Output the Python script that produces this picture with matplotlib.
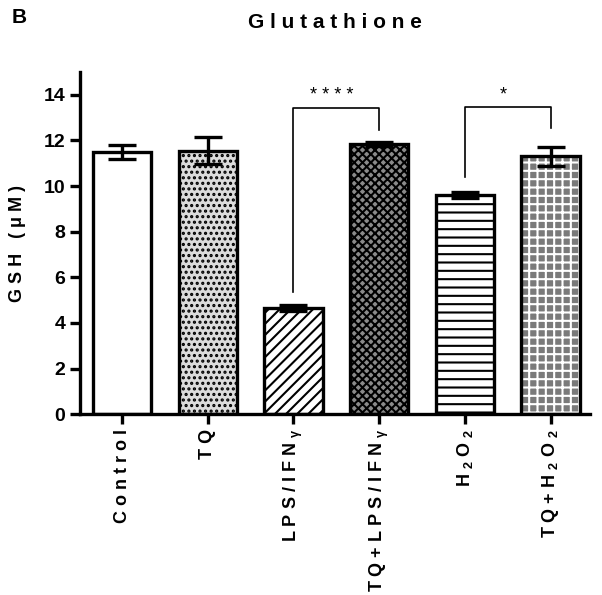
import matplotlib.pyplot as plt

plt.rcParams['font.family'] = ['Liberation Sans', 'DejaVu Sans']
plt.rcParams['font.weight'] = 'bold'
plt.rcParams['mathtext.default'] = 'regular'
plt.rcParams['hatch.linewidth'] = 1.5

# 資料
groups = ['Control', 'TQ', r'LPS/IFN$_{\gamma}$', r'TQ+LPS/IFN$_{\gamma}$', r'H$_2$O$_2$', r'TQ+H$_2$O$_2$']
means = [11.5, 11.55, 4.65, 11.84, 9.6, 11.3]
errors = [0.3, 0.6, 0.15, 0.1, 0.12, 0.4]
# 顯著性標記: (左組, 右組, 橫線高度, 左腳底, 右腳底, 星號)
sig = [(2, 3, 13.4, 5.35, 12.45, '****'),
       (4, 5, 13.45, 10.4, 12.55, '*')]

faces = ['white', '#dcdcdc', 'white', '#8a8a8a', 'white', '#7a7a7a']
hatches = [None, '...', '///', 'xxxx', '--', '++']
hcolors = ['black', 'black', 'black', 'black', 'black', 'white']


def spaced(s):
    # 字母間加空白 (數學式 $...$ 當成一個字)
    parts = []
    inmath = False
    for ch in s:
        if ch == '$':
            if not inmath:
                parts.append('$')
            else:
                parts[-1] += '$'
            inmath = not inmath
        elif inmath:
            parts[-1] += ch
        else:
            parts.append(ch)
    return ' '.join(parts)


fig = plt.figure(figsize=(6.02, 5.95), dpi=100)
ax = fig.add_axes([0.133, 0.304, 0.847, 0.575])

x = list(range(len(groups)))
w = 0.68
for i in x:
    # 底色與花紋
    ax.bar(i, means[i], w, color=faces[i], edgecolor=hcolors[i], hatch=hatches[i], linewidth=0, zorder=2)
    # 外框
    ax.bar(i, means[i], w, fill=False, edgecolor='black', linewidth=2.4, zorder=3)

ax.errorbar(x, means, yerr=errors, fmt='none', ecolor='black', elinewidth=2.4,
            capsize=10, capthick=2.4, zorder=4)

for a, b, h, ya, yb, s in sig:
    ax.plot([a, a, b, b], [ya, h, h, yb], color='black', linewidth=1.2, zorder=5)
    ax.text((a + b) / 2 - 0.05, h + 0.55, ' '.join(s), ha='center', va='center', fontsize=13, fontweight='normal')

ax.set_xlim(-0.49, 5.46)
ax.set_ylim(0, 15)
ax.set_yticks(range(0, 15, 2))
ax.set_xticks(x)
ax.set_xticklabels([spaced(g) for g in groups], rotation=90, fontsize=13, fontweight='bold')
ax.tick_params(axis='y', labelsize=14, width=2.4, length=7)
ax.tick_params(axis='x', width=2.4, length=7)
for lab in ax.get_yticklabels():
    lab.set_fontweight('bold')

ax.spines['top'].set_visible(False)
ax.spines['right'].set_visible(False)
ax.spines['left'].set_linewidth(2.4)
ax.spines['bottom'].set_linewidth(2.4)

ax.set_ylabel(spaced('GSH (μM)'), fontsize=13, fontweight='bold', labelpad=13)
fig.text(0.556, 0.962, spaced('Glutathione'), ha='center', va='center', fontsize=15, fontweight='bold')
fig.text(0.02, 0.97, 'B', ha='left', va='center', fontsize=15, fontweight='bold')

fig.savefig('out.png', dpi=100)
